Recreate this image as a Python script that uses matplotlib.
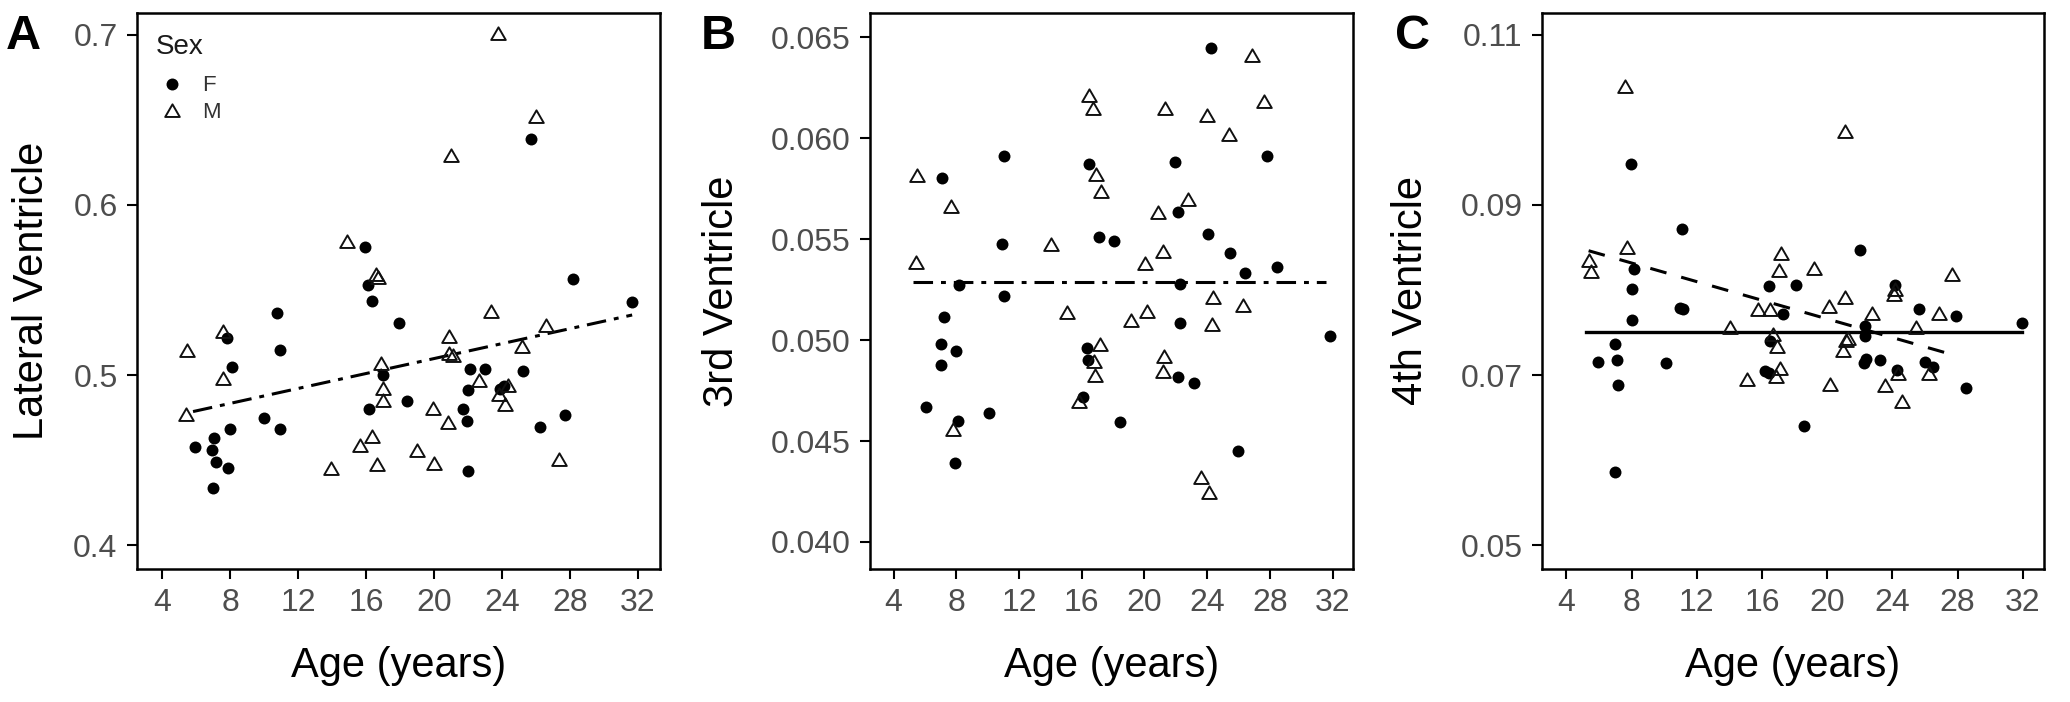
import matplotlib
matplotlib.use("Agg")
import matplotlib.pyplot as plt
from matplotlib.lines import Line2D
from matplotlib.path import Path

plt.rcParams['font.family'] = ['Liberation Sans', 'DejaVu Sans']

# panel A: lateral ventricle
lat_f_age = [5.94, 7.03, 6.93, 7.14, 6.96, 7.86, 7.81, 8.07, 7.97, 9.96, 10.77, 10.9, 10.92,
             15.95, 16.13, 16.34, 16.19, 16.96, 17.92, 18.42, 21.68, 21.94, 21.97, 22.1,
             22.02, 23.0, 23.89, 24.1, 25.26, 25.73, 26.25, 27.7, 28.19, 31.66]
lat_f_val = [0.4576, 0.4629, 0.456, 0.449, 0.4336, 0.4454, 0.5218, 0.5047, 0.4684, 0.4745,
             0.5366, 0.5147, 0.4684, 0.5752, 0.553, 0.5435, 0.4803, 0.5002, 0.5303, 0.4848,
             0.48, 0.4727, 0.4436, 0.5033, 0.4912, 0.5033, 0.4917, 0.4933, 0.5023, 0.6389,
             0.4697, 0.4766, 0.5567, 0.543]
lat_m_age = [5.43, 5.4, 7.55, 7.55, 14.89, 13.9, 15.62, 16.34, 16.63, 16.57, 16.7, 16.86,
             17.0, 17.0, 19.01, 19.94, 19.99, 20.8, 20.85, 20.85, 21.1, 20.98, 22.62, 23.37,
             23.78, 23.83, 24.35, 24.15, 25.2, 26.0, 26.6, 27.33]
lat_m_val = [0.5142, 0.4766, 0.5255, 0.4978, 0.5784, 0.4449, 0.4581, 0.4634, 0.4468, 0.5591,
             0.557, 0.5065, 0.4917, 0.485, 0.4555, 0.48, 0.4476, 0.4719, 0.5224, 0.5123,
             0.511, 0.6286, 0.4965, 0.5369, 0.7008, 0.4885, 0.4933, 0.4824, 0.5163, 0.6519,
             0.529, 0.45]
lat_fit_x = [5.8, 31.66]
lat_fit_y = [0.4785, 0.5353]

# panel B: 3rd ventricle
third_f_age = [7.1, 11.03, 16.44, 21.92, 27.83, 24.26, 10.89, 17.08, 18.07, 22.15, 24.07,
               25.47, 26.43, 28.45, 8.19, 11.06, 7.2, 7.01, 7.04, 8.0, 8.08, 7.94, 6.05,
               10.1, 16.33, 16.38, 16.1, 18.43, 22.26, 22.26, 22.15, 23.13, 25.95, 31.86]
third_f_val = [0.05802, 0.0591, 0.05874, 0.05883, 0.05912, 0.06447, 0.05476, 0.05509,
               0.05493, 0.05637, 0.05526, 0.05432, 0.05333, 0.05361, 0.05273, 0.05218,
               0.05112, 0.0498, 0.04877, 0.04947, 0.04601, 0.04392, 0.04667, 0.04639,
               0.04963, 0.049, 0.04716, 0.04595, 0.05278, 0.05086, 0.04819, 0.04789,
               0.04452, 0.0502]
third_m_age = [5.52, 5.43, 7.66, 7.8, 14.07, 15.06, 15.82, 16.47, 16.72, 16.94, 17.22,
               17.14, 16.8, 16.86, 19.14, 20.18, 20.04, 20.88, 21.16, 21.25, 21.19, 21.3,
               22.8, 23.98, 24.4, 24.34, 23.61, 24.12, 25.41, 26.85, 27.61, 26.31]
third_m_val = [0.05813, 0.05383, 0.05659, 0.04557, 0.05471, 0.05134, 0.04694, 0.06209,
               0.06143, 0.05817, 0.05736, 0.04974, 0.04892, 0.0482, 0.05097, 0.05141,
               0.05377, 0.0563, 0.05436, 0.04914, 0.04841, 0.06143, 0.05696, 0.06108,
               0.05207, 0.05073, 0.04318, 0.04242, 0.06015, 0.06407, 0.06181, 0.05167]
third_fit_x = [5.27, 31.57]
third_fit_y = [0.05289, 0.05289]

# panel C: 4th ventricle
fourth_f_age = [5.96, 6.99, 7.13, 7.18, 6.99, 7.94, 8.13, 8.02, 8.0, 10.09, 11.07, 10.99,
                11.15, 16.4, 16.18, 16.5, 17.26, 16.45, 18.08, 18.6, 22.0, 22.29, 22.29,
                22.27, 22.4, 23.22, 24.17, 24.31, 25.61, 26.02, 26.51, 27.92, 28.52, 31.92]
fourth_f_val = [0.07152, 0.07363, 0.07178, 0.06877, 0.05862, 0.09478, 0.08251, 0.08013,
                0.07643, 0.07141, 0.08722, 0.07786, 0.07775, 0.0805, 0.07046, 0.07405,
                0.07722, 0.07025, 0.08061, 0.06401, 0.08473, 0.07458, 0.07574, 0.07141,
                0.07183, 0.07178, 0.08056, 0.07062, 0.07775, 0.07152, 0.07099, 0.07696,
                0.0685, 0.07617]
fourth_m_age = [5.36, 5.49, 7.59, 7.72, 14.06, 15.06, 15.74, 16.5, 16.69, 16.91, 16.86,
                17.13, 17.18, 17.05, 19.17, 20.12, 20.17, 21.12, 21.12, 21.18, 20.99, 22.77,
                23.53, 24.13, 24.34, 24.56, 25.43, 26.25, 26.84, 27.65, 24.07, 21.3]
fourth_m_val = [0.08346, 0.08209, 0.10392, 0.08489, 0.07548, 0.06945, 0.0776, 0.0776,
                0.07469, 0.07326, 0.06982, 0.07072, 0.08426, 0.08225, 0.08251, 0.07802,
                0.06887, 0.09863, 0.07907, 0.07395, 0.07284, 0.07712, 0.06866, 0.08003,
                0.07009, 0.06681, 0.07548, 0.07009, 0.07722, 0.08182, 0.0794, 0.0742]
fourth_fit_x = [5.22, 31.92]
fourth_fit_y = [0.07506, 0.07506]
fourth_m_fit_x = [5.36, 27.3]
fourth_m_fit_y = [0.08462, 0.0726]

age_ticks = [4, 8, 12, 16, 20, 24, 28, 32]

panels = [
    dict(letter='A', ylabel='Lateral Ventricle', f=(lat_f_age, lat_f_val),
         m=(lat_m_age, lat_m_val), yticks=[0.4, 0.5, 0.6, 0.7], yfmt='{:.1f}',
         ylim=(0.3859, 0.7131), rect=[137, 12.7, 660, 569], ylab_x=-0.1625, let_x=6),
    dict(letter='B', ylabel='3rd Ventricle', f=(third_f_age, third_f_val),
         m=(third_m_age, third_m_val), yticks=[0.040, 0.045, 0.050, 0.055, 0.060, 0.065],
         yfmt='{:.3f}', ylim=(0.03866, 0.06622), rect=[870, 12.7, 1353, 569],
         ylab_x=-0.265, let_x=701),
    dict(letter='C', ylabel='4th Ventricle', f=(fourth_f_age, fourth_f_val),
         m=(fourth_m_age, fourth_m_val), yticks=[0.05, 0.07, 0.09, 0.11], yfmt='{:.2f}',
         ylim=(0.04718, 0.11262), rect=[1542, 12.7, 2044, 569], ylab_x=-0.221, let_x=1395),
]

# open triangle a bit flatter than matplotlib's '^' (like ggplot shape 2)
tri = Path([(-1, -0.75), (1, -0.75), (0, 0.98), (-1, -0.75)],
           [Path.MOVETO, Path.LINETO, Path.LINETO, Path.CLOSEPOLY])
dot_kw = dict(marker='o', color='black', markersize=8.6, markeredgewidth=0)
tri_kw = dict(marker=tri, markerfacecolor='none', markeredgecolor='#111111',
              markersize=10.5, markeredgewidth=1.4)
dotdash = (6.4, 2.6, 1.6, 2.6)

W, H = 2070, 702
fig = plt.figure(figsize=(W / 100, H / 100), dpi=100)

axes = []
for p in panels:
    x0, y0, x1, y1 = p['rect']
    ax = fig.add_axes([x0 / W, 1 - y1 / H, (x1 - x0) / W, (y1 - y0) / H])
    axes.append(ax)
    ax.plot(p['f'][0], p['f'][1], ls='none', zorder=3, **dot_kw)
    ax.plot(p['m'][0], p['m'][1], ls='none', zorder=3, **tri_kw)
    ax.set_xlim(2.5, 33.3)
    ax.set_ylim(*p['ylim'])
    ax.set_xticks(age_ticks)
    ax.set_xticklabels([str(t) for t in age_ticks])
    ax.set_yticks(p['yticks'])
    ax.set_yticklabels([p['yfmt'].format(t) for t in p['yticks']])
    ax.tick_params(direction='out', length=7, width=1.5, color='black',
                   labelsize=23, labelcolor='#4d4d4d', pad=7)
    for s in ax.spines.values():
        s.set_linewidth(1.8)
        s.set_color('black')
    ax.set_xlabel('Age (years)', fontsize=30, color='black')
    ax.xaxis.set_label_coords(0.5, -0.1384)
    ax.set_ylabel(p['ylabel'], fontsize=30, color='black')
    ax.yaxis.set_label_coords(p['ylab_x'], 0.5)
    fig.text(p['let_x'] / W, 1 - 49 / H, p['letter'], fontsize=35, fontweight='bold',
             va='baseline', ha='left')

axes[0].plot(lat_fit_x, lat_fit_y, color='black', lw=2.2, dashes=dotdash, zorder=2)
axes[1].plot(third_fit_x, third_fit_y, color='black', lw=2.2, dashes=dotdash, zorder=2)
axes[2].plot(fourth_fit_x, fourth_fit_y, color='black', lw=2.4, zorder=2)
axes[2].plot(fourth_m_fit_x, fourth_m_fit_y, color='black', lw=2.2, dashes=(5.5, 5), zorder=2)

# legend for sex (panel A only)
ax = axes[0]
ax.text((156 - 137) / 523, (569 - 34) / 556.3, 'Sex', transform=ax.transAxes,
        fontsize=20, color='#1a1a1a', ha='left', va='top')
handles = [Line2D([], [], ls='none', **dot_kw), Line2D([], [], ls='none', **tri_kw)]
leg = ax.legend(handles, ['F', 'M'], loc='upper left',
                bbox_to_anchor=((158.7 - 137) / 523, (569 - 75.5) / 556.3),
                frameon=False, fontsize=16, handlelength=1.2, handletextpad=0.75,
                labelspacing=0.27, borderpad=0, borderaxespad=0)
for t in leg.get_texts():
    t.set_color('#333333')

fig.savefig('out.png', dpi=100)
